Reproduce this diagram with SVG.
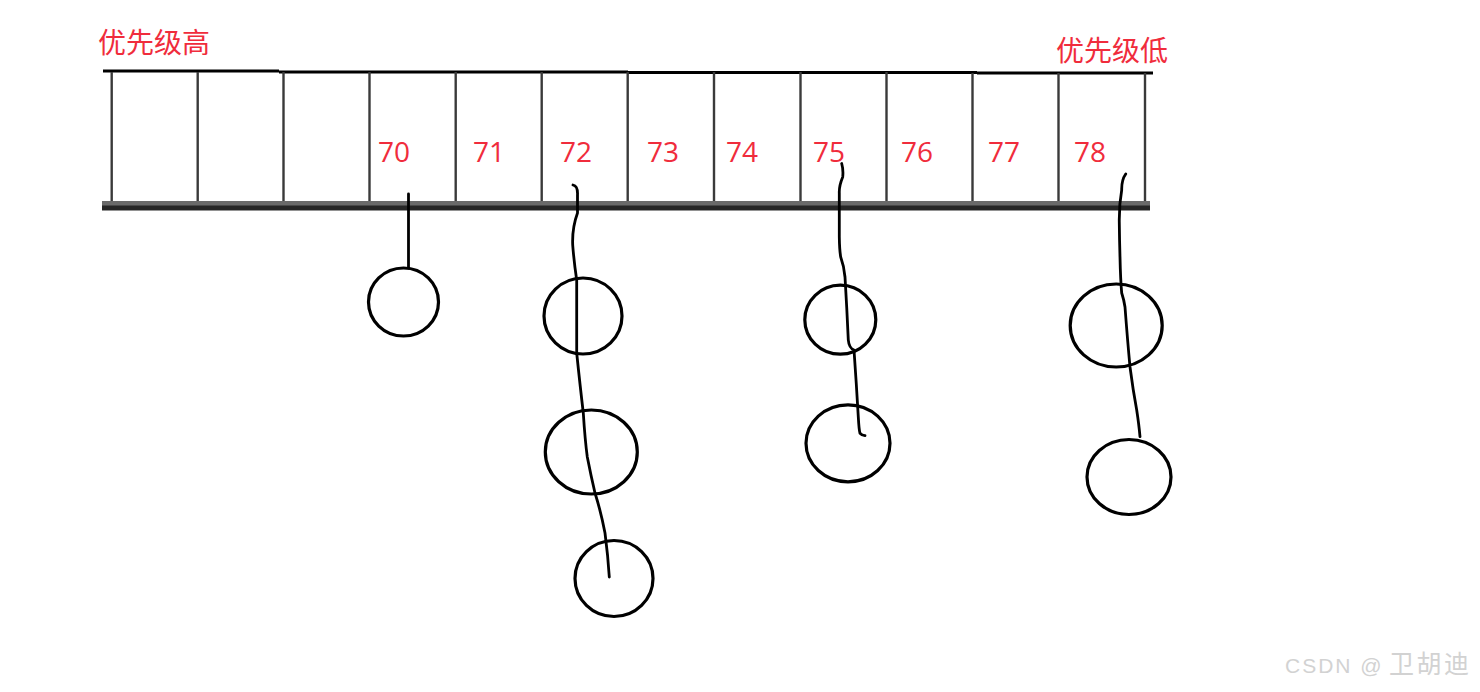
<svg xmlns="http://www.w3.org/2000/svg" width="1480" height="692" viewBox="0 0 1480 692">
<style>
.lbl{font-family:"Open Sans","Noto Sans CJK SC",sans-serif;font-size:28px;fill:#f02c3c}
.ttl{font-family:"Noto Sans CJK SC","Open Sans",sans-serif;font-size:28px;fill:#f02c3c}
.wm{fill:#d2d2d2}
.wl{font-family:"Liberation Sans",Arial,sans-serif;font-size:21px;letter-spacing:2px}
.wc{font-family:"Noto Sans CJK SC",sans-serif;font-size:25px;letter-spacing:2.5px}
.sep{stroke:#3a3a3a;stroke-width:2.4}
.node{fill:none;stroke:#000;stroke-width:3.2}
.wire{fill:none;stroke:#000;stroke-width:2.8;stroke-linecap:round;stroke-linejoin:round}
</style>
<rect width="1480" height="692" fill="#fff"/>
<g id="titles">
<text class="ttl" x="98" y="53">优先级高</text>
<text class="ttl" x="1056" y="61">优先级低</text>
</g>
<g id="array">
<path d="M103 71 L279 71 M279 72 L628 72 M628 72.5 L977 72.5 M977 73 L1153 73" stroke="#000" stroke-width="3.2" fill="none"/>
<g class="sep">
<line x1="111.7" y1="72" x2="111.7" y2="208"/>
<line x1="197.7" y1="72" x2="197.7" y2="208"/>
<line x1="283.5" y1="72" x2="283.5" y2="208"/>
<line x1="369.5" y1="72" x2="369.5" y2="208"/>
<line x1="455.7" y1="72" x2="455.7" y2="208"/>
<line x1="541.7" y1="72" x2="541.7" y2="208"/>
<line x1="627.7" y1="72" x2="627.7" y2="208"/>
<line x1="714" y1="72" x2="714" y2="208"/>
<line x1="800.5" y1="72" x2="800.5" y2="208"/>
<line x1="886.5" y1="72" x2="886.5" y2="208"/>
<line x1="972.5" y1="73" x2="972.5" y2="208"/>
<line x1="1058.5" y1="73" x2="1058.5" y2="208"/>
<line x1="1145" y1="73" x2="1145" y2="208"/>
</g>
<rect x="102" y="201" width="1048" height="5" fill="#6a6a6a"/>
<rect x="102" y="205.5" width="1048" height="5" fill="#262626"/>
<text class="lbl" x="378" y="162">70</text>
<text class="lbl" x="473" y="162">71</text>
<text class="lbl" x="560" y="162">72</text>
<text class="lbl" x="647" y="162">73</text>
<text class="lbl" x="726" y="162">74</text>
<text class="lbl" x="813" y="162">75</text>
<text class="lbl" x="901" y="162">76</text>
<text class="lbl" x="988" y="162">77</text>
<text class="lbl" x="1074" y="162">78</text>
</g>
<g id="connectors">
<path class="wire" d="M408.5 194 L408.5 268"/>
<path class="wire" d="M573 185 Q578 186 577.5 195 L577.5 213 Q572 228 572.7 245 Q574 262 576.7 280 L576.7 353 Q580 385 583.3 413 Q585 440 587.3 457 Q591 476 595 493 Q601 512 605 533 Q608 556 609.3 577"/>
<path class="wire" d="M841.7 163.5 Q843.5 170 842.7 177 Q839 186 839.3 193 L839.3 236.7 Q839.5 250 840.7 257 Q844 266 845 277 Q847 310 848.3 340 Q849 348 854 350 Q856.5 385 858.3 417 Q859 430 860 433.3 Q862 435.5 865 435.7"/>
<path class="wire" d="M1125.7 174 Q1121.5 180 1121.7 190 Q1119 205 1119.3 223 Q1119.5 240 1120 257 Q1120.5 280 1121.7 293 Q1124 300 1125 307 Q1127.5 340 1130 367 Q1133 390 1136.7 410 Q1139 425 1140 436.7"/>
</g>
<g id="node-70a"><ellipse class="node" cx="403.5" cy="302" rx="35" ry="34"/></g>
<g id="node-72a"><ellipse class="node" cx="583" cy="316" rx="39" ry="38"/></g>
<g id="node-72b"><ellipse class="node" cx="591.3" cy="452" rx="46" ry="42"/></g>
<g id="node-72c"><ellipse class="node" cx="614" cy="578.5" rx="39" ry="38"/></g>
<g id="node-75a"><ellipse class="node" cx="840.3" cy="319.7" rx="35.5" ry="34.5"/></g>
<g id="node-75b"><ellipse class="node" cx="848" cy="443.3" rx="42" ry="38.5"/></g>
<g id="node-78a"><ellipse class="node" cx="1116.2" cy="325.5" rx="46" ry="41.5"/></g>
<g id="node-78b"><ellipse class="node" cx="1129" cy="477" rx="42" ry="37.5"/></g>
<g id="watermark">
<text class="wm" x="1285" y="673"><tspan class="wl">CSDN @</tspan><tspan class="wc" x="1389">卫胡迪</tspan></text>
</g>
</svg>
